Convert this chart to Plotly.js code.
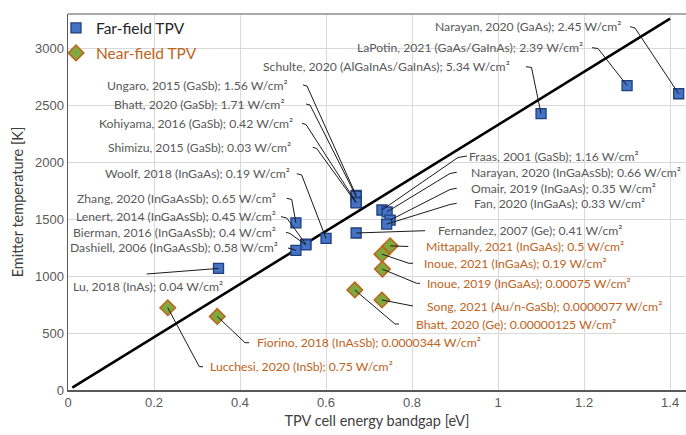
<!DOCTYPE html>
<html><head><meta charset="utf-8">
<script src="https://cdn.plot.ly/plotly-3.0.1.min.js"></script>
<style>html,body{margin:0;padding:0;background:#fff}#chart{width:686px;height:435px}</style>
</head><body><div id="chart"></div>
<script>
// ---------- data ----------
const farNames = [
  'Narayan, 2020 (GaAs)', 'LaPotin, 2021 (GaAs/GaInAs)', 'Schulte, 2020 (AlGaInAs/GaInAs)',
  'Ungaro, 2015 (GaSb)', 'Bhatt, 2020 (GaSb)', 'Kohiyama, 2016 (GaSb)', 'Shimizu, 2015 (GaSb)',
  'Woolf, 2018 (InGaAs)', 'Zhang, 2020 (InGaAsSb)', 'Lenert, 2014 (InGaAsSb)',
  'Bierman, 2016 (InGaAsSb)', 'Dashiell, 2006 (InGaAsSb)', 'Lu, 2018 (InAs)',
  'Fraas, 2001 (GaSb)', 'Narayan, 2020 (InGaAsSb)', 'Omair, 2019 (InGaAs)', 'Fan, 2020 (InGaAs)',
  'Fernandez, 2007 (Ge)'
];
const farPower = ['2.45','2.39','5.34','1.56','1.71','0.42','0.03','0.19','0.65','0.45','0.4','0.58','0.04','1.16','0.66','0.35','0.33','0.41'];
const farX = [1.42, 1.30, 1.10, 0.67, 0.67, 0.67, 0.67, 0.60, 0.53, 0.553, 0.553, 0.53, 0.35, 0.73, 0.742, 0.749, 0.741, 0.67];
const farY = [2600, 2672, 2425, 1708, 1700, 1648, 1642, 1330, 1467, 1280, 1274, 1226, 1067, 1580, 1564, 1491, 1456, 1378];

const nearNames = [
  'Mittapally, 2021 (InGaAs)', 'Inoue, 2021 (InGaAs)', 'Inoue, 2019 (InGaAs)',
  'Song, 2021 (Au/n-GaSb)', 'Bhatt, 2020 (Ge)', 'Fiorino, 2018 (InAsSb)', 'Lucchesi, 2020 (InSb)'
];
const nearPower = ['0.5','0.19','0.00075','0.0000077','0.00000125','0.0000344','0.75'];
const nearX = [0.749, 0.730, 0.731, 0.730, 0.667, 0.347, 0.232];
const nearY = [1265, 1192, 1061, 790, 878, 646, 722];

const refLineX = [0.01, 1.40];
const refLineY = [20, 3260];

const xTicks = [0, 0.2, 0.4, 0.6, 0.8, 1.0, 1.2, 1.4];
const xTickText = ['0', '0.2', '0.4', '0.6', '0.8', '1', '1.2', '1.4'];
const yTicks = [0, 500, 1000, 1500, 2000, 2500, 3000];
const yTickText = ['0', '500', '1000', '1500', '2000', '2500', '3000'];

// ---------- label layout (page pixels): [anchor, textX, textY, leader elbow points] ----------
const farLabelLayout = [
  ['r', 622, 26.7, [[630, 26.7], [635, 28]]],
  ['r', 583.5, 47.7, [[592, 47.7], [598, 48.5]]],
  ['r', 511, 66.7, [[526, 66.7], [531.5, 67.5]]],
  ['r', 289, 85, [[303, 85], [307, 86]]],
  ['r', 285, 104, [[306, 104], [310, 105]]],
  ['r', 294, 123.3, [[302, 123.3], [306, 124.5]]],
  ['r', 292, 147.3, [[312.7, 147.3], [316.7, 148.5]]],
  ['r', 291, 173.7, [[296.7, 173.7], [301.7, 175]]],
  ['r', 277, 198.3, [[286.7, 198.3], [291.7, 199.5]]],
  ['r', 277, 216.7, [[281, 216.7], [286.7, 218]]],
  ['r', 277, 232.3, [[286, 232.3], [290, 233.5]]],
  ['r', 279, 247.7, [[288, 248], [292, 249]]],
  ['l', 71.5, 286, [[146.7, 274]]],
  ['l', 467.5, 156, [[467, 156], [458, 157.5]]],
  ['l', 469.5, 172.3, [[456.7, 172.3], [450, 173.5]]],
  ['l', 469.5, 188.3, [[456.7, 188.3], [450, 189.5]]],
  ['l', 472.5, 203.3, [[456.7, 203.3], [450, 204.5]]],
  ['l', 437, 230.7, [[425, 230.7]]]
];
const nearLabelLayout = [
  ['l', 424.5, 246, [[408.3, 246.5]]],
  ['l', 422.5, 263.3, [[413, 263.3], [409, 263.3]]],
  ['l', 426, 283.3, [[420, 283.3], [416.7, 283.3]]],
  ['l', 425.5, 306, [[413, 306]]],
  ['l', 414.5, 324, [[399, 324], [395, 324]]],
  ['l', 255.5, 342.7, [[249, 342.7], [245, 342.7]]],
  ['l', 208.5, 366.7, [[203, 366.7], [199.3, 366.7]]]
];

// ---------- chart ----------
const FAR_TEXT = '#595959';
const NEAR_TEXT = '#C0631B';
const LABEL_FONT = 'Lato, "Open Sans", sans-serif';

const traces = [
  {x: refLineX, y: refLineY, mode: 'lines', line: {color: '#000000', width: 2.6},
   showlegend: false, hoverinfo: 'skip'},
  {x: farX, y: farY, mode: 'markers', name: 'Far-field TPV', legend: 'legend',
   marker: {symbol: 'square', size: 10, color: '#4472C4', line: {color: '#1F3F7F', width: 1.3}}},
  {x: nearX, y: nearY, mode: 'markers', name: 'Near-field TPV', legend: 'legend2',
   marker: {symbol: 'diamond', size: 12, color: '#7FA83F', line: {color: '#C0631B', width: 1.5}}}
];

const L = 68, T = 14, W = 618, H = 376;
const layout = {
  width: 686, height: 435,
  margin: {l: L, r: 686 - L - W, t: T, b: 435 - T - H, pad: 0},
  paper_bgcolor: '#ffffff', plot_bgcolor: '#ffffff',
  font: {family: LABEL_FONT, color: '#404040'},
  showlegend: true,
  xaxis: {
    range: [0, 1.437], tickvals: xTicks, ticktext: xTickText,
    showgrid: true, gridcolor: '#d9d9d9', gridwidth: 1, zeroline: false,
    showline: true, linecolor: '#595959', linewidth: 1.5, ticks: '',
    tickfont: {family: '"Liberation Sans", Arial, sans-serif', size: 13, color: '#595959'},
    title: {text: 'TPV cell energy bandgap [eV]', font: {family: LABEL_FONT, size: 14.5, color: '#404040'}, standoff: 7}
  },
  yaxis: {
    range: [0, 3300], tickvals: yTicks, ticktext: yTickText,
    showgrid: true, gridcolor: '#d9d9d9', gridwidth: 1, zeroline: false,
    showline: true, linecolor: '#595959', linewidth: 1.5, ticks: '',
    tickfont: {family: '"Liberation Sans", Arial, sans-serif', size: 13, color: '#595959'},
    title: {text: 'Emitter temperature [K]', font: {family: LABEL_FONT, size: 14.5, color: '#404040'}, standoff: 8}
  },
  legend: {x: (56 - L) / W, y: 1 - (28.3 - T) / H, xanchor: 'left', yanchor: 'middle',
           bgcolor: 'rgba(0,0,0,0)', borderwidth: 0, font: {family: LABEL_FONT, size: 15.5, color: '#262626'}},
  legend2: {x: (56 - L) / W, y: 1 - (53.3 - T) / H, xanchor: 'left', yanchor: 'middle',
            bgcolor: 'rgba(0,0,0,0)', borderwidth: 0, font: {family: LABEL_FONT, size: 15.5, color: NEAR_TEXT}},
  shapes: [
    {type: 'line', xref: 'paper', yref: 'paper', x0: 0, x1: 1, y0: 1, y1: 1, line: {color: '#8c8c8c', width: 1.5}}
  ]
};

const gd = document.getElementById('chart');
Plotly.newPlot(gd, traces, layout, {staticPlot: true, displayModeBar: false}).then(function () {
  const fl = gd._fullLayout, xa = fl.xaxis, ya = fl.yaxis, s = fl._size;
  const px2paperX = function (px) { return (px - s.l) / s.w; };
  const px2paperY = function (py) { return 1 - (py - s.t) / s.h; };
  const annotations = [];
  const shapes = layout.shapes.slice();

  function addLabels(names, powers, xs, ys, lay, color) {
    for (let i = 0; i < names.length; i++) {
      const [anchor, tx, ty, elbow] = lay[i];
      annotations.push({
        xref: 'paper', yref: 'paper', x: px2paperX(tx), y: px2paperY(ty),
        xanchor: anchor === 'r' ? 'right' : 'left', yanchor: 'middle', showarrow: false,
        text: names[i] + '; ' + powers[i] + ' W/cm²',
        font: {family: LABEL_FONT, size: 12.2, color: color}, borderpad: 0
      });
      const ppx = xa._offset + xa.l2p(xs[i]);
      const ppy = ya._offset + ya.l2p(ys[i]);
      const pts = elbow.concat([[ppx, ppy]]);
      let path = '';
      pts.forEach(function (p, k) {
        path += (k === 0 ? 'M' : ' L') + px2paperX(p[0]).toFixed(5) + ',' + px2paperY(p[1]).toFixed(5);
      });
      shapes.push({type: 'path', xref: 'paper', yref: 'paper', path: path,
                   line: {color: '#1a1a1a', width: 1}});
    }
  }
  addLabels(farNames, farPower, farX, farY, farLabelLayout, FAR_TEXT);
  addLabels(nearNames, nearPower, nearX, nearY, nearLabelLayout, NEAR_TEXT);
  return Plotly.relayout(gd, {annotations: annotations, shapes: shapes});
});
</script>
</body></html>
